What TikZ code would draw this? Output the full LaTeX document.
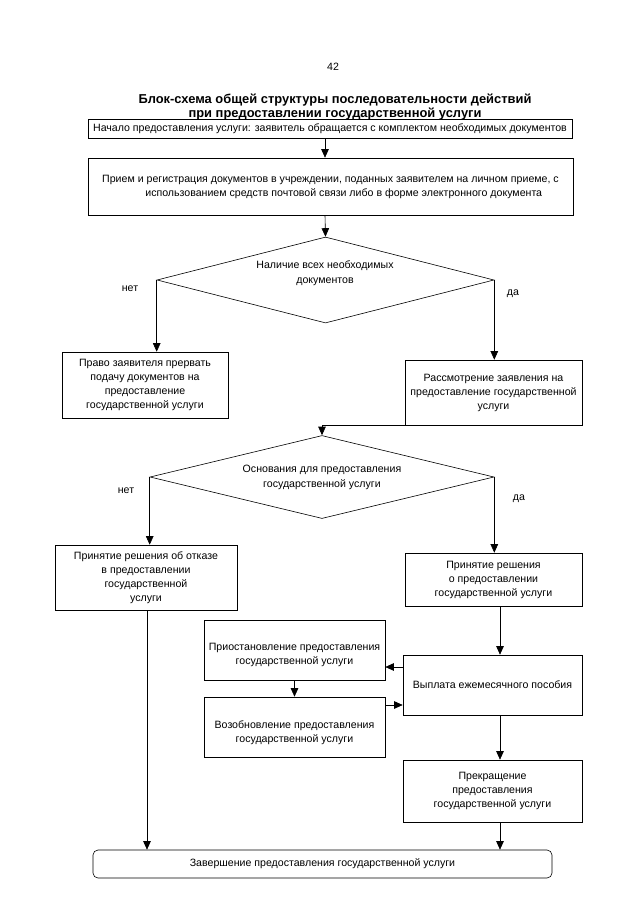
\documentclass[tikz,border=0pt]{standalone}
\usepackage{fontspec}
\setmainfont{Liberation Sans}
\usetikzlibrary{arrows.meta,shapes.geometric}
\tikzset{
  box/.style={draw, line width=0.6pt, align=center, inner sep=0pt, font=\fontsize{10.6}{14}\selectfont},
  dia/.style={draw, line width=0.6pt, diamond, inner sep=0pt},
  txt/.style={align=center, inner sep=0pt, font=\fontsize{10.6}{15}\selectfont},
  lbl/.style={inner sep=0pt, font=\fontsize{10.6}{12}\selectfont},
  arr/.style={line width=0.6pt, -{Triangle[width=7.5pt,length=8.5pt]}},
  ln/.style={line width=0.6pt}
}
\begin{document}
\begin{tikzpicture}[x=1pt,y=-1pt]
\useasboundingbox (0,0) rectangle (640,905);
\fill[white] (0,0) rectangle (640,905);
\node[inner sep=0pt, font=\fontsize{10.6}{12}\selectfont] (pg) at (333,67) {42};
\node[align=center, inner sep=0pt, font=\fontsize{12.9}{14}\selectfont\bfseries] (title) at (335,107)
  {Блок-схема общей структуры последовательности действий\\при предоставлении государственной услуги};

\node[box, minimum width=484pt, minimum height=19pt] (b1) at (330,128.5)
  {Начало предоставления услуги: заявитель обращается с комплектом необходимых документов};
\node[box, minimum width=485pt, minimum height=57pt] (b2) at (330.5,186.5)
  {Прием и регистрация документов в учреждении, поданных заявителем на личном приеме, с\\
   \hspace*{2.5em}использованием средств почтовой связи либо в форме электронного документа};

\node[dia, minimum width=337pt, minimum height=86pt] (d1) at (325.5,280) {};
\node[txt] (d1t) at (325,273) {Наличие всех необходимых\\документов};
\node[lbl] (no1) at (130,289) {нет};
\node[lbl] (yes1) at (513,294) {да};

\node[box, minimum width=166pt, minimum height=66pt] (prav) at (145,385)
  {Право заявителя прервать\\подачу документов на\\предоставление\\государственной услуги};
\node[box, minimum width=177pt, minimum height=65pt] (rass) at (493.5,392.5)
  {Рассмотрение заявления на\\предоставление государственной\\услуги};

\node[dia, minimum width=344pt, minimum height=83pt] (d2) at (322,477) {};
\node[txt] (d2t) at (322,477) {Основания для предоставления\\государственной услуги};
\node[lbl] (no2) at (126,491) {нет};
\node[lbl] (yes2) at (519,499) {да};

\node[box, minimum width=182pt, minimum height=65pt] (otk) at (146,577.5)
  {Принятие решения об отказе\\в предоставлении\\государственной\\услуги};
\node[box, minimum width=177pt, minimum height=53pt] (prin) at (493.5,579.5)
  {Принятие решения\\о предоставлении\\государственной услуги};

\node[box, minimum width=181pt, minimum height=60pt] (prio) at (294.5,650) {};
\node[txt, font=\fontsize{10.6}{14}\selectfont] (priot) at (294.5,655)
  {Приостановление предоставления\\государственной услуги};
\node[box, minimum width=181pt, minimum height=60pt] (vozo) at (294.5,727) {};
\node[txt, font=\fontsize{10.6}{14}\selectfont] (vozot) at (294.5,733)
  {Возобновление предоставления\\государственной услуги};
\node[box, minimum width=179pt, minimum height=60pt] (vypl) at (492.5,685)
  {Выплата ежемесячного пособия};
\node[box, minimum width=179pt, minimum height=62pt] (prek) at (492.5,791)
  {Прекращение\\предоставления\\государственной услуги};
\node[box, rounded corners=5pt, minimum width=459pt, minimum height=28pt] (fin) at (322.5,864)
  {Завершение предоставления государственной услуги};

\coordinate (c1) at (325,0);
\draw[arr] (c1 |- b1.south) -- (c1 |- b2.north);
\draw[arr] (c1 |- b2.south) -- (d1.north);
\draw[arr] (d1.west) -- (d1.west |- prav.north);
\draw[arr] (d1.east) -- (d1.east |- rass.north);
\draw[arr] (rass.south west) -| (d2.north);
\draw[arr] (d2.west) -- (d2.west |- otk.north);
\draw[arr] (d2.east) -- (d2.east |- prin.north);
\coordinate (c2) at (500,0);
\draw[arr] (c2 |- prin.south) -- (c2 |- vypl.north);
\draw[arr] (c2 |- vypl.south) -- (c2 |- prek.north);
\draw[arr] (c2 |- prek.south) -- (c2 |- fin.north);
\coordinate (c3) at (0,667);
\draw[arr] (vypl.west |- c3) -- (prio.east |- c3);
\draw[arr] (prio.south) -- (vozo.north);
\coordinate (c4) at (0,705);
\draw[arr] (vozo.east |- c4) -- (vypl.west |- c4);
\coordinate (c5) at (147,0);
\draw[arr] (c5 |- otk.south) -- (c5 |- fin.north);
\end{tikzpicture}
\end{document}
